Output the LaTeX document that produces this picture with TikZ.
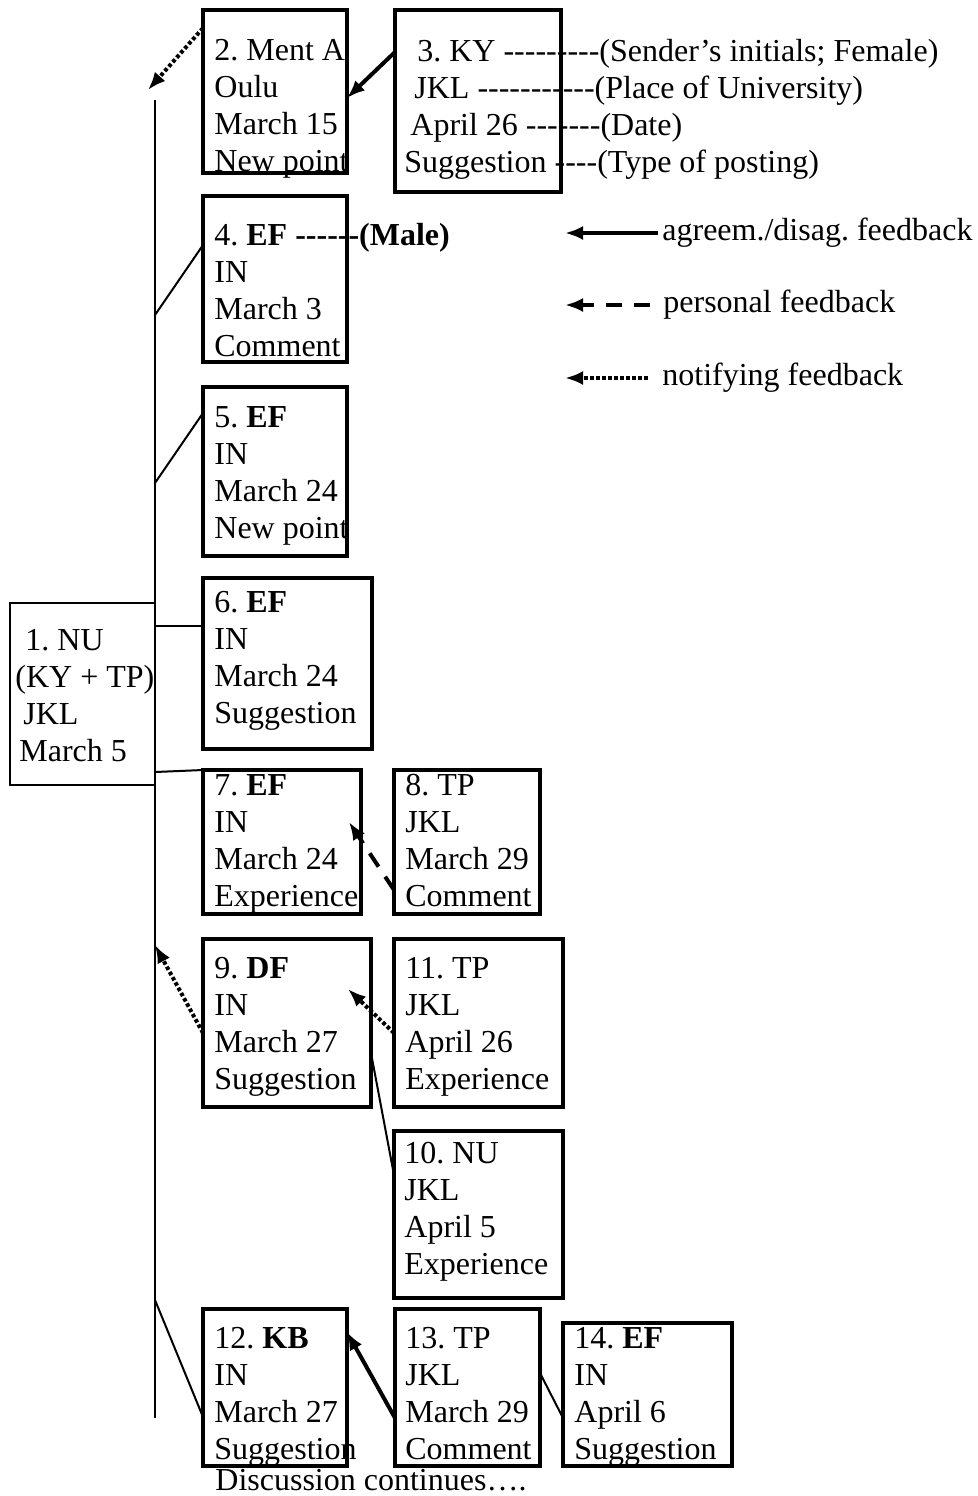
\documentclass[tikz,border=0pt]{standalone}
\usepackage{fontspec}
\setmainfont{Liberation Serif}[Ligatures=TeXOff]
\usetikzlibrary{arrows.meta}
\frenchspacing

\begin{document}
\begin{tikzpicture}[x=0.5pt,y=-0.5pt,
  every path/.style={>={Latex[length=9pt,width=7pt]}},
  every node/.style={font=\fontsize{16}{18.5}\selectfont},
  post/.style={draw,rectangle,line width=1.6pt,inner sep=0pt,outer sep=0pt},
  txt/.style={align=left,anchor=north west,inner sep=0pt},
  link/.style={line width=1pt},
  agree/.style={->,line width=2pt},
  personal/.style={->,line width=2pt,dash pattern=on 8pt off 6pt},
  notify/.style={->,line width=2pt,dash pattern=on 1.8pt off 1.2pt}]
\useasboundingbox (0,0) rectangle (978,1496);

\node[post,line width=1pt,minimum width=72.5pt,minimum height=91pt] (p1) at (82.5,694) {};
\node[post,minimum width=72pt,minimum height=81.5pt]   (p2)  at (275,91.5)    {};
\node[post,minimum width=83pt,minimum height=91pt]     (p3)  at (478,101)     {};
\node[post,minimum width=72pt,minimum height=83pt]     (p4)  at (275,279)     {};
\node[post,minimum width=72pt,minimum height=84.5pt]   (p5)  at (275,471.5)   {};
\node[post,minimum width=84.5pt,minimum height=85.5pt] (p6)  at (287.5,663.5) {};
\node[post,minimum width=79pt,minimum height=72pt]     (p7)  at (282,842)     {};
\node[post,minimum width=73pt,minimum height=72pt]     (p8)  at (467,842)     {};
\node[post,minimum width=84pt,minimum height=84pt]     (p9)  at (287,1023)    {};
\node[post,minimum width=84.5pt,minimum height=83.5pt] (p10) at (478.5,1214.5) {};
\node[post,minimum width=84.5pt,minimum height=84pt]   (p11) at (478.5,1023)  {};
\node[post,minimum width=72pt,minimum height=78.5pt]   (p12) at (275,1387.5)  {};
\node[post,minimum width=72.5pt,minimum height=78.5pt] (p13) at (467.5,1387.5) {};
\node[post,minimum width=84.5pt,minimum height=71.5pt] (p14) at (647.5,1394.5) {};

\node[txt] (t1)  at (15,629)   {\hspace{5pt}1. NU\\(KY + TP)\\\hspace{4pt}JKL\\\hspace{2pt}March 5};
\node[txt] (t2)  at (214,39)   {2. Ment A\\Oulu\\March 15\\New point};
\node[txt] (t3)  at (404,39)   {\hspace{6.5pt}3. KY ---------(Sender’s initials; Female)\\\hspace{5pt}JKL -----------(Place of University)\\\hspace{3pt}April 26 -------(Date)\\Suggestion ----(Type of posting)};
\node[txt] (t4)  at (214,223)  {4. \textbf{EF ------(Male)}\\IN\\March 3\\Comment};
\node[txt] (t5)  at (214,406)  {5. \textbf{EF}\\IN\\March 24\\New point};
\node[txt] (t6)  at (214,591)  {6. \textbf{EF}\\IN\\March 24\\Suggestion};
\node[txt] (t7)  at (214,774)  {7. \textbf{EF}\\IN\\March 24\\Experience};
\node[txt] (t8)  at (405,774)  {8. TP\\JKL\\March 29\\Comment};
\node[txt] (t9)  at (214,957)  {9. \textbf{DF}\\IN\\March 27\\Suggestion};
\node[txt] (t11) at (405,957)  {11. TP\\JKL\\April 26\\Experience};
\node[txt] (t10) at (404,1142) {10. NU\\JKL\\April 5\\Experience};
\node[txt] (t12) at (214,1327) {12. \textbf{KB}\\IN\\March 27\\Suggestion};
\node[txt] (t13) at (405,1327) {13. TP\\JKL\\March 29\\Comment};
\node[txt] (t14) at (574,1327) {14. \textbf{EF}\\IN\\April 6\\Suggestion};
\node[txt] (more) at (215,1469) {Discussion continues….};

\node[anchor=west,inner sep=2pt] (l1) at (658,233) {agreem./disag. feedback};
\node[anchor=west,inner sep=2pt] (l2) at (659,305) {personal feedback};
\node[anchor=west,inner sep=2pt] (l3) at (658,378) {notifying feedback};
\coordinate (k1) at (565,233);
\coordinate (k2) at (565,305);
\coordinate (k3) at (565,378);
\draw[agree]    (l1.west) -- (k1);
\draw[personal] ([xshift=-4.5pt]l2.west) -- (k2);
\draw[notify]   ([xshift=-5pt]l3.west) -- (k3);

\coordinate (spinetop) at (155,100);
\coordinate (spinebot) at (155,1418);
\coordinate (n2)  at (148,90);
\coordinate (s4)  at (155,315);
\coordinate (s5)  at (155,483);
\coordinate (s6)  at (155,626);
\coordinate (s7)  at (155,772);
\coordinate (s9)  at (155,945);
\coordinate (s12) at (155,1300);
\draw[line width=0.8pt] (spinetop) -- (spinebot);

\draw[notify]   ([yshift=-9pt]p2.north west) -- (n2);
\draw[agree]    ([yshift=-21pt]p3.north west) -- ([yshift=-44pt]p2.north east);
\draw[link]     (s4) -- ([yshift=-24.5pt]p4.north west);
\draw[link]     (s5) -- ([yshift=-13pt]p5.north west);
\draw[link]     (s6) -- ([yshift=-24pt]p6.north west);
\draw[link]     (s7) -- (p7.north west);
\draw[personal] ([yshift=-60pt]p8.north west) -- ([xshift=-6pt,yshift=-26pt]p7.north east);
\draw[notify]   ([yshift=-47pt]p9.north west) -- (s9);
\draw[notify]   ([yshift=-47pt]p11.north west) -- ([xshift=-11.5pt,yshift=-25pt]p9.north east);
\draw[link]     ([yshift=-57pt]p9.north east) -- ([yshift=-22pt]p10.north west);
\draw[link]     (s12) -- ([yshift=-54pt]p12.north west);
\draw[agree]    ([yshift=-54.5pt]p13.north west) -- ([yshift=-11.5pt]p12.north east);
\draw[link]     ([yshift=-32pt]p13.north east) -- ([yshift=-47.5pt]p14.north west);
\end{tikzpicture}
\end{document}
